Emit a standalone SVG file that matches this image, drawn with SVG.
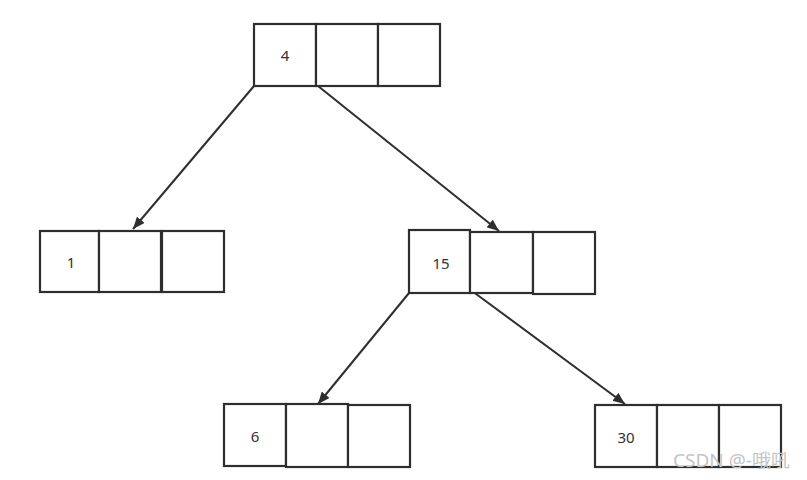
<svg xmlns="http://www.w3.org/2000/svg" width="807" height="480" viewBox="0 0 807 480">
<style>
.c{fill:#fff;stroke:#2e2e2e;stroke-width:2.2}
.t{font-family:"Noto Sans","Open Sans",sans-serif;font-size:15px;fill:#333;text-anchor:middle;dominant-baseline:central}
.e{stroke:#2e2e2e;stroke-width:2;fill:none;marker-end:url(#a)}
.w{font-family:"Noto Sans","Noto Sans CJK SC",sans-serif;font-size:18px;fill:#c4c4c4}
</style>
<defs>
<marker id="a" viewBox="0 0 12 10" refX="12" refY="5" markerWidth="12" markerHeight="10" markerUnits="userSpaceOnUse" orient="auto">
<path d="M0,0 L12,5 L0,10 z" fill="#2e2e2e"/>
</marker>
</defs>
<rect width="807" height="480" fill="#fff"/>
<g id="connectors">
<line class="e" x1="254" y1="86" x2="133" y2="229"/>
<line class="e" x1="318" y1="86" x2="499" y2="231"/>
<line class="e" x1="409" y1="293" x2="318" y2="404"/>
<line class="e" x1="472" y1="291" x2="625" y2="404"/>
</g>
<g id="n4">
<rect class="c" x="254" y="24" width="62" height="62"/>
<rect class="c" x="316" y="24" width="62" height="62"/>
<rect class="c" x="378" y="24" width="62" height="62"/>
<text class="t" x="285" y="55">4</text>
</g>
<g id="n1">
<rect class="c" x="40" y="231" width="59" height="61"/>
<rect class="c" x="99" y="231" width="62" height="61"/>
<rect class="c" x="162" y="231" width="62" height="61"/>
<text class="t" x="71" y="262">1</text>
</g>
<g id="n15">
<rect class="c" x="409" y="230" width="61" height="63"/>
<rect class="c" x="470" y="232" width="63" height="61"/>
<rect class="c" x="533" y="232" width="62" height="62"/>
<text class="t" x="441" y="263">15</text>
</g>
<g id="n6">
<rect class="c" x="224" y="404" width="62" height="62"/>
<rect class="c" x="286" y="404" width="62" height="63"/>
<rect class="c" x="348" y="405" width="62" height="62"/>
<text class="t" x="255" y="436">6</text>
</g>
<g id="n30">
<rect class="c" x="595" y="405" width="62" height="62"/>
<rect class="c" x="657" y="405" width="62" height="62"/>
<rect class="c" x="719" y="405" width="62" height="62"/>
<text class="t" x="626" y="437">30</text>
</g>
<text class="w" x="673" y="467" textLength="117" lengthAdjust="spacingAndGlyphs">CSDN @-哦吼</text>
</svg>
